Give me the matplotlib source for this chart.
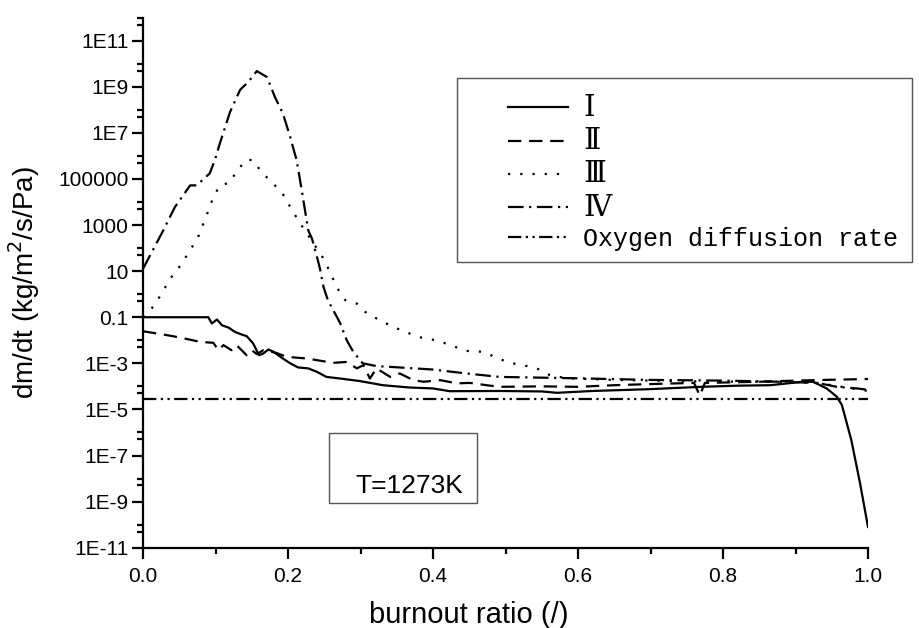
import numpy as np
import matplotlib
matplotlib.use("Agg")
import matplotlib.pyplot as plt
from matplotlib.ticker import FixedLocator, FixedFormatter, NullFormatter
from matplotlib.patches import Rectangle

# ---------------- data (log10 of dm/dt) ----------------
I_x = [0.0, 0.09, 0.095, 0.102, 0.109, 0.118, 0.127, 0.136, 0.143, 0.152, 0.16, 0.166,
       0.173, 0.18, 0.191, 0.203, 0.214, 0.228, 0.24, 0.253, 0.272, 0.299, 0.331, 0.368,
       0.4, 0.423, 0.492, 0.55, 0.571, 0.62, 0.7, 0.77, 0.82, 0.865, 0.91, 0.924, 0.943,
       0.957, 0.964, 0.977, 0.989, 1.0]
I_log = [-1.0, -1.0, -1.27, -1.1, -1.35, -1.45, -1.64, -1.75, -1.82, -2.14, -2.65, -2.57,
         -2.4, -2.5, -2.75, -3.0, -3.18, -3.22, -3.37, -3.59, -3.66, -3.77, -3.95, -4.05,
         -4.09, -4.21, -4.2, -4.22, -4.28, -4.2, -4.12, -4.02, -3.97, -3.95, -3.8, -3.8, -4.09,
         -4.45, -4.81, -6.33, -8.2, -10.1]

II_x = [0.0, 0.028, 0.051, 0.079, 0.097, 0.104, 0.111, 0.122, 0.129, 0.143, 0.15, 0.157,
        0.166, 0.184, 0.198, 0.226, 0.262, 0.281, 0.295, 0.304, 0.313, 0.322, 0.341, 0.354,
        0.373, 0.387, 0.41, 0.433, 0.451, 0.474, 0.492, 0.55, 0.6, 0.65, 0.7, 0.76, 0.768,
        0.775, 0.85, 0.9, 0.94, 0.97, 1.0]
II_log = [-1.61, -1.75, -1.88, -2.07, -2.11, -2.43, -2.21, -2.43, -2.21, -2.65, -2.43, -2.6,
          -2.43, -2.55, -2.72, -2.79, -2.98, -2.94, -3.22, -3.08, -3.66, -3.22, -3.59, -3.44,
          -3.73, -3.8, -3.73, -3.87, -3.85, -3.95, -4.02, -4.0, -4.02, -3.95, -3.9, -3.85, -4.4,
          -3.85, -3.8, -3.75, -3.72, -3.7, -3.68]

III_x = [0.0, 0.012, 0.026, 0.037, 0.051, 0.065, 0.076, 0.09, 0.097, 0.106, 0.12, 0.129,
         0.143, 0.152, 0.164, 0.178, 0.194, 0.205, 0.217, 0.228, 0.248, 0.258, 0.267, 0.279,
         0.295, 0.309, 0.327, 0.345, 0.368, 0.387, 0.405, 0.446, 0.469, 0.49, 0.506, 0.524,
         0.543, 0.561, 0.585, 0.65, 0.75, 0.85, 0.93, 0.96, 1.0]
III_log = [-1.0, -0.62, 0.03, 0.65, 1.22, 1.9, 2.48, 3.61, 4.21, 4.72, 4.84, 5.34,
           5.84, 5.81, 5.27, 4.86, 4.29, 3.68, 3.06, 2.55, 1.59, 0.96, 0.31, -0.26,
           -0.41, -0.84, -1.13, -1.42, -1.71, -1.92, -2.0, -2.46, -2.5, -2.79, -2.98, -3.08,
           -3.22, -3.51, -3.65, -3.72, -3.78, -3.8, -3.85, -4.0, -4.2]

IV_x = [0.0, 0.028, 0.044, 0.065, 0.074, 0.092, 0.099, 0.106, 0.12, 0.134, 0.145, 0.157,
        0.171, 0.182, 0.193, 0.203, 0.212, 0.219, 0.228, 0.233, 0.24, 0.244, 0.249, 0.255,
        0.272, 0.281, 0.29, 0.303, 0.322, 0.354, 0.4, 0.446, 0.492, 0.6, 0.7, 0.8, 0.88,
        0.93, 0.957, 0.985, 1.0]
IV_log = [1.1, 2.77, 3.78, 4.72, 4.72, 5.24, 5.81, 6.54, 7.9, 8.87, 9.2, 9.68,
          9.42, 8.55, 7.84, 6.82, 5.8, 4.5, 2.76, 2.42, 1.61, 1.12, 0.31, -0.26,
          -1.26, -2.0, -2.5, -3.0, -3.12, -3.18, -3.27, -3.44, -3.59, -3.65, -3.72, -3.75, -3.8,
          -3.85, -4.02, -4.09, -4.15]

O2_x = [0.0, 1.0]
O2_y = [2.8e-5, 2.8e-5]

labels = ["Ⅰ", "Ⅱ", "Ⅲ", "Ⅳ", "Oxygen diffusion rate"]
ytick_vals = [1e-11, 1e-9, 1e-7, 1e-5, 1e-3, 1e-1, 1e1, 1e3, 1e5, 1e7, 1e9, 1e11]
ytick_labels = ["1E-11", "1E-9", "1E-7", "1E-5", "1E-3", "0.1", "10", "1000",
                "100000", "1E7", "1E9", "1E11"]
xtick_vals = [0.0, 0.2, 0.4, 0.6, 0.8, 1.0]
xtick_labels = ["0.0", "0.2", "0.4", "0.6", "0.8", "1.0"]
annotation = "T=1273K"

# ---------------- figure ----------------
W, H = 919, 628
fig = plt.figure(figsize=(W / 100, H / 100), dpi=100)
ax = fig.add_axes([143 / W, 1 - 547.7 / H, (868 - 143) / W, (547.7 - 17.6) / H])

lw = 1.6
ax.plot(I_x, 10.0 ** np.array(I_log), color="black", lw=lw, ls="-", label=labels[0])
ax.plot(II_x, 10.0 ** np.array(II_log), color="black", lw=lw, ls=(0, (6, 3.5)), label=labels[1])
ax.plot(III_x, 10.0 ** np.array(III_log), color="black", lw=lw, ls=(0, (1, 4.5)), label=labels[2])
ax.plot(IV_x, 10.0 ** np.array(IV_log), color="black", lw=lw, ls=(0, (7, 2.5, 1, 2.5)), label=labels[3])
ax.plot(O2_x, O2_y, color="black", lw=lw, ls=(0, (6, 2, 1, 2, 1, 2)), label=labels[4])

ax.set_yscale("log")
ax.set_xlim(0, 1)
ax.set_ylim(1e-11, 1e12)

ax.yaxis.set_major_locator(FixedLocator(ytick_vals))
ax.yaxis.set_major_formatter(FixedFormatter(ytick_labels))
minor_y = [10.0 ** k for k in range(-10, 13, 2)] + [5 * 10.0 ** k for k in range(-11, 12, 2)]
ax.yaxis.set_minor_locator(FixedLocator(minor_y))
ax.yaxis.set_minor_formatter(NullFormatter())
ax.xaxis.set_major_locator(FixedLocator(xtick_vals))
ax.xaxis.set_major_formatter(FixedFormatter(xtick_labels))
ax.xaxis.set_minor_locator(FixedLocator([0.1, 0.3, 0.5, 0.7, 0.9]))

for s in ["top", "right"]:
    ax.spines[s].set_visible(False)
for s in ["left", "bottom"]:
    ax.spines[s].set_linewidth(1.6)
ax.tick_params(which="major", direction="out", length=8, width=1.6, labelsize=15)
ax.tick_params(axis="x", which="major", pad=6)
ax.tick_params(axis="y", which="major", pad=2.5)
ax.tick_params(which="minor", direction="out", length=4.5, width=1.6)
for t in ax.get_xticklabels() + ax.get_yticklabels():
    t.set_fontfamily("Liberation Sans")

ax.set_xlabel("burnout ratio (/)", fontsize=21, family="Liberation Sans", va="top")
ax.xaxis.set_label_coords(0.449, -0.100)
ax.set_ylabel("dm/dt (kg/m$^2$/s/Pa)", fontsize=20, family="Liberation Sans")
ax.yaxis.set_label_coords(-0.139, 0.50)

# legend (frameless) plus box
leg = ax.legend(loc="upper left", bbox_to_anchor=(508 / W, 1 - 94 / H),
                bbox_transform=fig.transFigure, frameon=False, fontsize=18,
                handlelength=2.4, handletextpad=0.6, labelspacing=0.21,
                borderpad=0, borderaxespad=0)
for i, t in enumerate(leg.get_texts()):
    if i < 4:
        t.set_fontfamily(["DejaVu Serif", "Noto Sans CJK SC"])
        t.set_fontsize(21)
    else:
        t.set_fontfamily(["Liberation Mono", "DejaVu Sans Mono"])
fig.patches.append(Rectangle((457 / W, 1 - 262 / H), (912 - 457) / W, (262 - 78) / H,
                             transform=fig.transFigure, fill=False, edgecolor="#555555",
                             lw=1.0))

# annotation box
fig.patches.append(Rectangle((328.5 / W, 1 - 502.7 / H), (477.3 - 328.5) / W, (502.7 - 432.7) / H,
                             transform=fig.transFigure, fill=False, edgecolor="#555555",
                             lw=1.0))
fig.text(355 / W, 1 - 486 / H, annotation, fontsize=19, family="Liberation Sans",
         ha="left", va="center")

fig.savefig("out.png", dpi=100)
